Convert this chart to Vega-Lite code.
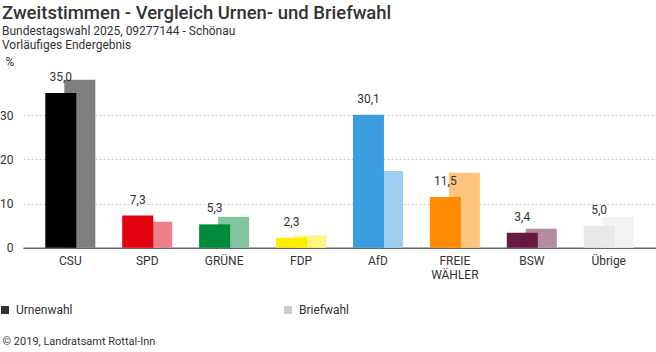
{
  "$schema": "https://vega.github.io/schema/vega-lite/v6.json",
  "width": 633,
  "height": 176.8,
  "autosize": "none",
  "padding": {"left": 23, "top": 71, "right": 0, "bottom": 104},
  "background": "white",
  "title": {
    "text": "Zweitstimmen - Vergleich Urnen- und Briefwahl",
    "subtitle": ["Bundestagswahl 2025, 09277144 - Schönau", "Vorläufiges Endergebnis"],
    "anchor": "start",
    "frame": "group",
    "dx": -21,
    "offset": 5,
    "font": "Roboto",
    "fontSize": 18.5,
    "fontWeight": 500,
    "color": "#333333",
    "subtitleFont": "Roboto",
    "subtitleFontSize": 12,
    "subtitleColor": "#333333",
    "subtitlePadding": 3,
    "subtitleLineHeight": 14
  },
  "config": {
    "view": {"stroke": null},
    "font": "Roboto",
    "locale": {"number": {"decimal": ",", "thousands": ".", "grouping": [3], "currency": ["", " €"]}}
  },
  "data": {
    "values": [
      {"partei": "CSU", "typ": "Urnenwahl", "wert": 35.0},
      {"partei": "SPD", "typ": "Urnenwahl", "wert": 7.3},
      {"partei": "GRÜNE", "typ": "Urnenwahl", "wert": 5.3},
      {"partei": "FDP", "typ": "Urnenwahl", "wert": 2.3},
      {"partei": "AfD", "typ": "Urnenwahl", "wert": 30.1},
      {"partei": "FREIE WÄHLER", "typ": "Urnenwahl", "wert": 11.5},
      {"partei": "BSW", "typ": "Urnenwahl", "wert": 3.4},
      {"partei": "Übrige", "typ": "Urnenwahl", "wert": 5.0},
      {"partei": "CSU", "typ": "Briefwahl", "wert": 38.0},
      {"partei": "SPD", "typ": "Briefwahl", "wert": 5.9},
      {"partei": "GRÜNE", "typ": "Briefwahl", "wert": 7.0},
      {"partei": "FDP", "typ": "Briefwahl", "wert": 2.8},
      {"partei": "AfD", "typ": "Briefwahl", "wert": 17.4},
      {"partei": "FREIE WÄHLER", "typ": "Briefwahl", "wert": 17.0},
      {"partei": "BSW", "typ": "Briefwahl", "wert": 4.3},
      {"partei": "Übrige", "typ": "Briefwahl", "wert": 7.0}
    ]
  },
  "encoding": {
    "x": {
      "field": "partei",
      "type": "nominal",
      "sort": null,
      "scale": {"paddingInner": 0.5, "paddingOuter": 0.365},
      "axis": {
        "title": "© 2019, Landratsamt Rottal-Inn",
        "titleAnchor": "start",
        "titleAlign": "left",
        "titleBaseline": "alphabetic",
        "titleX": -21,
        "titleY": 97,
        "titleFont": "Roboto",
        "titleFontSize": 11,
        "titleFontWeight": "normal",
        "titleColor": "#333333",
        "labelAngle": 0,
        "labelExpr": "split(datum.label, ' ')",
        "labelFont": "Roboto",
        "labelFontSize": 12,
        "labelColor": "#333333",
        "labelPadding": 8,
        "labelLineHeight": 14,
        "ticks": false,
        "domainColor": "#666666",
        "domainWidth": 1.5
      }
    },
    "y": {
      "field": "wert",
      "type": "quantitative",
      "scale": {"domain": [0, 40], "nice": false},
      "axis": {
        "values": [0, 10, 20, 30],
        "title": "%",
        "titleAngle": 0,
        "titleAlign": "left",
        "titleBaseline": "middle",
        "titleX": -18,
        "titleY": -9,
        "titleFont": "Roboto",
        "titleFontSize": 12,
        "titleFontWeight": "normal",
        "titleColor": "#333333",
        "labelFont": "Roboto",
        "labelFontSize": 12,
        "labelColor": "#333333",
        "labelPadding": 10,
        "ticks": false,
        "domain": false,
        "gridColor": "#cccccc",
        "gridDash": [2, 2],
        "gridWidth": 1
      }
    }
  },
  "layer": [
    {
      "transform": [{"filter": "datum.typ === 'Briefwahl'"}],
      "mark": {"type": "bar", "width": 31, "xOffset": 9.5},
      "encoding": {
        "color": {
          "field": "partei",
          "type": "nominal",
          "legend": null,
          "scale": {
            "domain": ["CSU", "SPD", "GRÜNE", "FDP", "AfD", "FREIE WÄHLER", "BSW", "Übrige"],
            "range": ["#7f7f7f", "#f07f87", "#80c59d", "#fff67f", "#9ecdf0", "#ffc57f", "#b38ca0", "#f3f3f3"]
          }
        }
      }
    },
    {
      "transform": [{"filter": "datum.typ === 'Urnenwahl'"}],
      "mark": {"type": "bar", "width": 31, "xOffset": -9.5},
      "encoding": {
        "color": {
          "field": "partei",
          "type": "nominal",
          "legend": null,
          "scale": {
            "domain": ["CSU", "SPD", "GRÜNE", "FDP", "AfD", "FREIE WÄHLER", "BSW", "Übrige"],
            "range": ["#000000", "#e3000f", "#008b3b", "#ffed00", "#3c9ce0", "#ff8b00", "#661a42", "#e8e8e8"]
          }
        }
      }
    },
    {
      "transform": [{"filter": "datum.typ === 'Urnenwahl'"}],
      "mark": {"type": "text", "xOffset": -9.5, "dy": -9, "baseline": "bottom", "font": "Roboto", "fontSize": 12, "color": "#333333"},
      "encoding": {
        "text": {"field": "wert", "type": "quantitative", "format": ".1f"}
      }
    },
    {
      "mark": {"type": "point", "shape": "square", "filled": true, "opacity": 0},
      "encoding": {
        "color": {
          "field": "typ",
          "type": "nominal",
          "scale": {"domain": ["Urnenwahl", "Briefwahl"], "range": ["#333333", "#cccccc"]},
          "legend": {
            "orient": "none",
            "legendX": -24,
            "legendY": 233,
            "direction": "horizontal",
            "title": null,
            "symbolType": "square",
            "symbolSize": 64,
            "symbolOpacity": 1,
            "symbolStrokeWidth": 0,
            "labelOffset": 5,
            "labelFont": "Roboto",
            "labelFontSize": 12,
            "labelColor": "#333333",
            "columnPadding": 209
          }
        }
      }
    }
  ],
  "resolve": {"scale": {"color": "independent"}}
}
